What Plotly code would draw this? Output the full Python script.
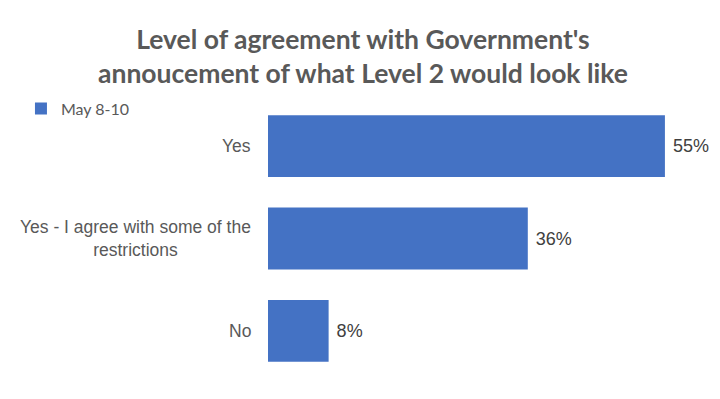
import plotly.graph_objects as go

categories = ["Yes", "Yes - I agree with some of the<br>restrictions", "No"]
values = [55, 36, 8.4]
series_name = "May 8-10"
title_text = "Level of agreement with Government's<br>annoucement of what Level 2 would look like"

fig = go.Figure()
fig.add_trace(go.Bar(
    y=categories, x=values, orientation="h", name=series_name,
    marker=dict(color="#4472C4", line=dict(width=0)),
    texttemplate=" %{x:.0f}%", textposition="outside",
    textfont=dict(family="Liberation Sans, Arial", size=18, color="#404040"),
    cliponaxis=False, showlegend=True,
))

for c in categories:
    fig.add_annotation(
        x=0, xref="paper", y=c, yref="y", text=c, showarrow=False,
        xanchor="right", align="center", xshift=-15,
        font=dict(family="Liberation Sans, Arial", size=17.5, color="#595959"),
    )

fig.update_layout(
    width=720, height=399,
    margin=dict(l=260, r=27, t=92, b=30),
    paper_bgcolor="white", plot_bgcolor="white",
    title=dict(text=title_text, x=0.493, xanchor="center", y=0.898, yanchor="middle",
               yref="container",
               font=dict(family="Lato, Open Sans, sans-serif", size=26.5, color="#595959", weight="bold")),
    bargap=0.33,
    xaxis=dict(range=[0, 60], visible=False),
    yaxis=dict(autorange="reversed", showticklabels=False, showgrid=False, zeroline=False, showline=False),
    legend=dict(xref="container", yref="container", x=0.018, y=0.748, xanchor="left", yanchor="middle",
                font=dict(family="Lato, Open Sans, sans-serif", size=16, color="#595959"),
                itemwidth=30, bgcolor="rgba(0,0,0,0)"),
)

fig.write_html("out.html")
